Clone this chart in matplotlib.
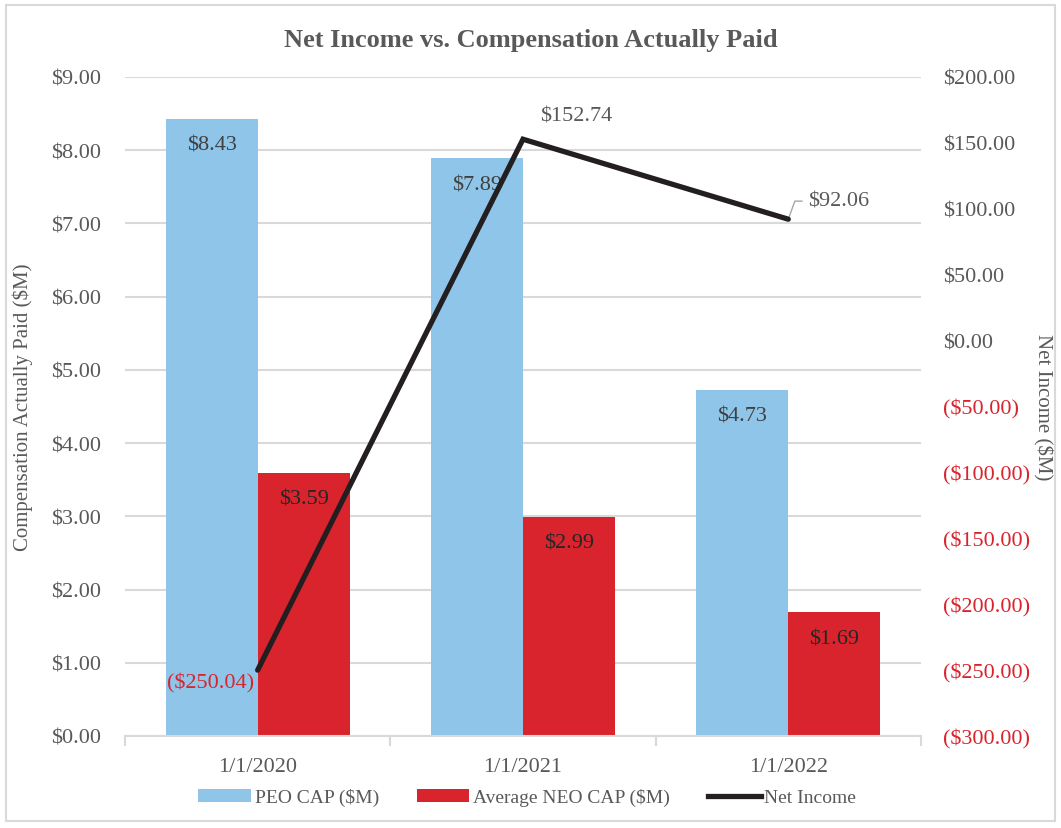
import numpy as np
import matplotlib.pyplot as plt
from matplotlib.patches import Rectangle
from matplotlib.lines import Line2D
from matplotlib.ticker import FuncFormatter

plt.rcParams['font.family'] = ['Liberation Serif', 'DejaVu Serif']

# Data
years = ["1/1/2020", "1/1/2021", "1/1/2022"]
peo_cap = [8.43, 7.89, 4.73]
neo_cap = [3.59, 2.99, 1.69]
net_income = [-250.04, 152.74, 92.06]

GREY = "#595959"
BLUE = "#8EC5E8"
RED = "#D9242E"
LINE = "#231F20"
FS = 16

fig = plt.figure(figsize=(10.61, 8.29), dpi=100)
fig.patches.append(Rectangle((0.006, 0.008), 0.988, 0.985, transform=fig.transFigure,
                             fill=False, edgecolor="#D9D9D9", linewidth=1.5))
ax = fig.add_axes([0.1178, 0.111, 0.7502, 0.795])
x = np.arange(len(years))
w = 0.347

b1 = ax.bar(x - w / 2, peo_cap, w, color=BLUE, label="PEO CAP ($M)", zorder=2)
b2 = ax.bar(x + w / 2, neo_cap, w, color=RED, label="Average NEO CAP ($M)", zorder=2)

for rect, v in zip(b1, peo_cap):
    ax.annotate(f"${v:.2f}", (rect.get_x() + rect.get_width() / 2, v), xytext=(0, -19),
                textcoords="offset points", ha="center", va="center", fontsize=FS, color="#404040")
for rect, v in zip(b2, neo_cap):
    ax.annotate(f"${v:.2f}", (rect.get_x() + rect.get_width() / 2, v), xytext=(0, -19),
                textcoords="offset points", ha="center", va="center", fontsize=FS, color="#262626")

ax.set_xlim(-0.5, 2.5)
ax.set_ylim(0, 9)
ax.set_yticks(np.arange(0, 10, 1))
ax.yaxis.set_major_formatter(FuncFormatter(lambda v, p: f"${v:.2f}"))
ax.grid(axis="y", color="#D9D9D9", linewidth=1.5, zorder=0)
ax.set_axisbelow(True)
for s in ["top", "left", "right"]:
    ax.spines[s].set_visible(False)
ax.spines["bottom"].set_color("#D9D9D9")
ax.spines["bottom"].set_linewidth(1.5)
ax.set_xticks(x)
ax.set_xticklabels(years)
ax.set_xticks([-0.5, 0.5, 1.5, 2.5], minor=True)
ax.tick_params(axis="x", which="major", length=0, pad=15, labelsize=FS, labelcolor=GREY)
ax.tick_params(axis="x", which="minor", length=7, width=1.5, color="#D9D9D9")
ax.tick_params(axis="y", length=0, pad=17, labelsize=FS, labelcolor=GREY)
ax.set_ylabel("Compensation Actually Paid ($M)", fontsize=15, color=GREY, labelpad=13)

ax2 = ax.twinx()
ax2.plot(x, net_income, color=LINE, linewidth=3.8, solid_capstyle="round",
         solid_joinstyle="miter", zorder=5)
ax2.set_ylim(-300, 200)
ax2.set_yticks(np.arange(-300, 201, 50))


def money(v, p=None):
    return f"(${abs(v):.2f})" if v < 0 else f"${v:.2f}"


ax2.yaxis.set_major_formatter(FuncFormatter(money))
ax2.tick_params(axis="y", length=0, pad=16, labelsize=FS)
for t, v in zip(ax2.get_yticklabels(), ax2.get_yticks()):
    t.set_color(RED if v < 0 else GREY)
for s in ax2.spines.values():
    s.set_visible(False)
ax2.set_ylabel("Net Income ($M)", fontsize=15, color=GREY, rotation=270, labelpad=16)

ax2.annotate(money(net_income[0]), (x[0], net_income[0]), xytext=(-34, -9),
             textcoords="offset points", ha="center", va="center", fontsize=FS, color=RED)
ax2.annotate(money(net_income[1]), (x[1], net_income[1]), xytext=(38, 17),
             textcoords="offset points", ha="center", va="center", fontsize=FS, color=GREY)
ax2.annotate(money(net_income[2]), (x[2], net_income[2]), xytext=(14, 13),
             textcoords="offset points", ha="left", va="center", fontsize=FS, color=GREY,
             arrowprops=dict(arrowstyle="-", color="#A6A6A6", linewidth=1,
                             connectionstyle="angle,angleA=0,angleB=70,rad=0",
                             shrinkA=2, shrinkB=0))

fig.text(0.5, 0.951, "Net Income vs. Compensation Actually Paid", ha="center", va="center",
         fontsize=19, fontweight="bold", color=GREY)

handles = [b1, b2, Line2D([], [], color=LINE, linewidth=3.8)]
fig.legend(handles, ["PEO CAP ($M)", "Average NEO CAP ($M)", "Net Income"],
           loc="center", bbox_to_anchor=(0.497, 0.037), ncol=3, frameon=False,
           fontsize=14, labelcolor=GREY, handlelength=2.7, handleheight=0.65,
           handletextpad=0.2, columnspacing=1.95)

fig.savefig("out.png", dpi=100)
